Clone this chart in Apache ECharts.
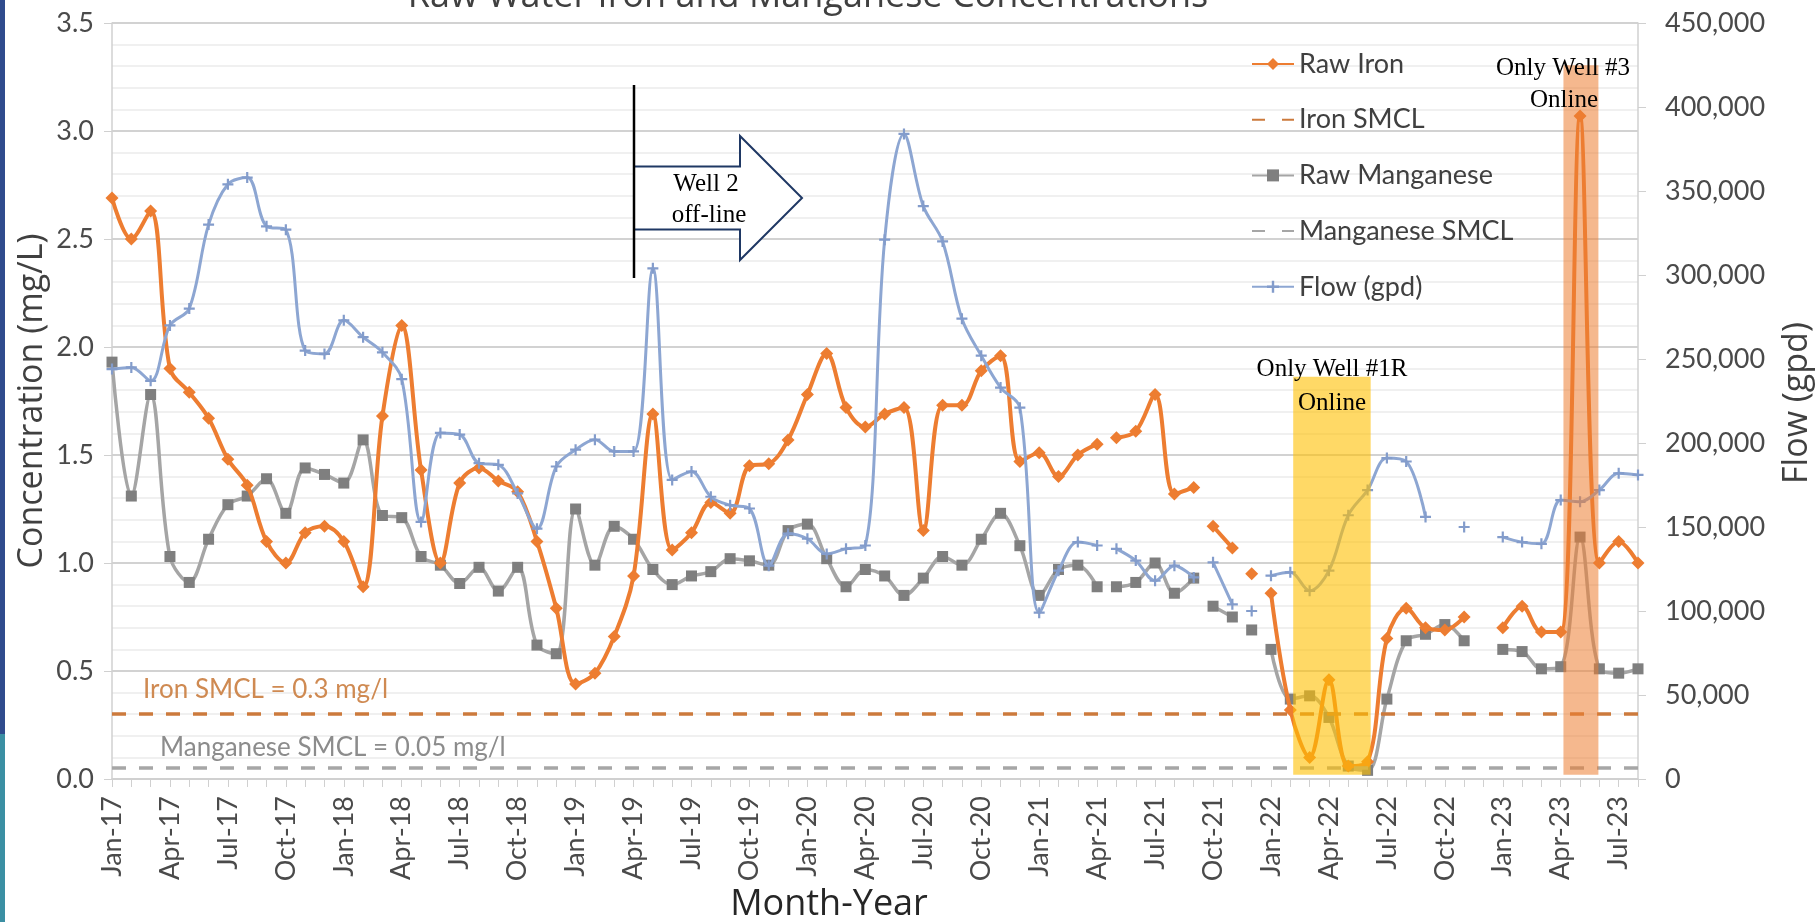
<!DOCTYPE html>
<html><head><meta charset="utf-8">
<script src="https://cdn.jsdelivr.net/npm/echarts@6/dist/echarts.min.js"></script>
<style>html,body{margin:0;padding:0;background:#fff;}#c{width:1817px;height:922px;}</style>
</head><body><div id="c"></div>
<script>
// ---------- DATA ----------
const months = [
 'Jan-17','Feb-17','Mar-17','Apr-17','May-17','Jun-17','Jul-17','Aug-17','Sep-17','Oct-17','Nov-17','Dec-17',
 'Jan-18','Feb-18','Mar-18','Apr-18','May-18','Jun-18','Jul-18','Aug-18','Sep-18','Oct-18','Nov-18','Dec-18',
 'Jan-19','Feb-19','Mar-19','Apr-19','May-19','Jun-19','Jul-19','Aug-19','Sep-19','Oct-19','Nov-19','Dec-19',
 'Jan-20','Feb-20','Mar-20','Apr-20','May-20','Jun-20','Jul-20','Aug-20','Sep-20','Oct-20','Nov-20','Dec-20',
 'Jan-21','Feb-21','Mar-21','Apr-21','May-21','Jun-21','Jul-21','Aug-21','Sep-21','Oct-21','Nov-21','Dec-21',
 'Jan-22','Feb-22','Mar-22','Apr-22','May-22','Jun-22','Jul-22','Aug-22','Sep-22','Oct-22','Nov-22','Dec-22',
 'Jan-23','Feb-23','Mar-23','Apr-23','May-23','Jun-23','Jul-23','Aug-23'
];
const rawIron = [
 2.69,2.50,2.63,1.90,1.79,1.67,1.48,1.36,1.10,1.00,1.14,1.17,
 1.10,0.89,1.68,2.10,1.43,1.00,1.37,1.44,1.38,1.33,1.10,0.79,
 0.44,0.49,0.66,0.94,1.69,1.06,1.14,1.28,1.23,1.45,1.46,1.57,
 1.78,1.97,1.72,1.63,1.69,1.72,1.15,1.73,1.73,1.89,1.96,1.47,
 1.51,1.40,1.50,1.55,1.58,1.61,1.78,1.32,1.35,1.17,1.07,0.95,
 0.86,0.32,0.10,0.46,0.06,0.08,0.65,0.79,0.70,0.69,0.75,null,
 0.70,0.80,0.68,0.68,3.07,1.00,1.10,1.00
];
const rawManganese = [
 1.93,1.31,1.78,1.03,0.91,1.11,1.27,1.31,1.39,1.23,1.44,1.41,
 1.37,1.57,1.22,1.21,1.03,0.99,0.905,0.98,0.87,0.98,0.62,0.58,
 1.25,0.99,1.17,1.11,0.97,0.90,0.94,0.96,1.02,1.01,0.99,1.15,
 1.18,1.02,0.89,0.97,0.94,0.85,0.93,1.03,0.99,1.11,1.23,1.08,
 0.85,0.97,0.99,0.89,0.89,0.91,1.00,0.86,0.93,0.80,0.75,0.69,
 0.60,0.37,0.385,0.285,0.06,0.04,0.37,0.64,0.67,0.715,0.64,null,
 0.60,0.59,0.51,0.52,1.12,0.51,0.49,0.51
];
const flowGpd = [
 244000,245000,237000,270000,280000,330000,354000,358000,329000,327000,255000,253000,
 273000,263000,254000,238000,153000,206000,205000,188000,187000,170000,149000,186000,
 196000,202000,195000,195000,304000,178000,183000,168000,163000,161000,127000,146000,
 143000,134000,137000,139000,321000,384000,341000,320000,274000,252000,233000,221000,
 99000,124000,141000,139000,137000,130000,118000,127000,120000,129000,104000,100000,
 121000,123000,112000,124000,157000,172000,191000,189000,156000,null,150000,null,
 144000,141000,140000,166000,165000,172000,182000,181000
];
const ironSMCL = 0.3;
const manganeseSMCL = 0.05;
// months after which the source line is broken (empty rows in the source sheet)
const lineBreaksAfter = [51,56,58,59];

// ---------- BUILD ----------
function toSeriesData(vals){
  const out = [];
  vals.forEach((v,i)=>{
    out.push([i, v==null ? '-' : v]);
    if (lineBreaksAfter.includes(i)) out.push([i+0.5,'-']);
  });
  return out;
}
const plusPath = 'path://M4,0H6V4H10V6H6V10H4V6H0V4H4Z';
const C_IRON='#ED7D31', C_MN_LINE='#A5A5A5', C_MN_MK='#7F7F7F', C_FLOW='#8DA6D2';
const C_IRON_SMCL='#CC7A3C', C_MN_SMCL='#A6A6A6';
const tickFont = {fontFamily:'Lato', fontSize:27, color:'#4a4a4a'};

const chart = echarts.init(document.getElementById('c'), null, {renderer:'canvas'});
chart.setOption({
  animation:false,
  backgroundColor:'#fff',
  grid:{left:112, right:179, top:23, bottom:143, containLabel:false},
  legend:{
    orient:'vertical', left:1251, top:49, padding:0, itemWidth:42, itemHeight:15, itemGap:25.7,
    textStyle:{fontFamily:'Lato', fontSize:27, color:'#404040', lineHeight:30},
    data:['Raw Iron','Iron SMCL','Raw Manganese','Manganese SMCL','Flow (gpd)']
  },
  xAxis:{
    type:'value', min:0, max:months.length-1, interval:3,
    axisLine:{show:true, lineStyle:{color:'#d0d0d0', width:1.5}},
    axisTick:{show:true, length:8, lineStyle:{color:'#d0d0d0'}},
    minorTick:{show:true, splitNumber:3, length:8, lineStyle:{color:'#d0d0d0'}},
    splitLine:{show:false},
    axisLabel:Object.assign({rotate:90, margin:17, showMaxLabel:false,
      formatter:(v)=> (v%3===0 && months[v]) ? months[v] : ''}, tickFont)
  },
  yAxis:[
    {type:'value', min:0, max:3.5, interval:0.5,
     axisLine:{show:true, lineStyle:{color:'#d0d0d0', width:1.5}},
     axisTick:{show:true, length:8, lineStyle:{color:'#d0d0d0'}},
     splitLine:{show:true, lineStyle:{color:'#d2d2d2', width:2}},
     minorTick:{show:false, splitNumber:5},
     minorSplitLine:{show:true, lineStyle:{color:'#ececec', width:1.5}},
     axisLabel:Object.assign({margin:18, formatter:(v)=>v.toFixed(1)}, tickFont)
    },
    {type:'value', min:0, max:450000, interval:50000, position:'right',
     axisLine:{show:true, lineStyle:{color:'#d0d0d0', width:1.5}},
     axisTick:{show:true, length:8, lineStyle:{color:'#d0d0d0'}},
     splitLine:{show:false},
     axisLabel:Object.assign({margin:27, formatter:(v)=>v.toLocaleString('en-US')}, tickFont)
    }
  ],
  series:[
    {name:'Raw Iron', type:'line', data:toSeriesData(rawIron), smooth:0.35,
     symbol:'diamond', symbolSize:13, showSymbol:true,
     lineStyle:{color:C_IRON, width:4}, itemStyle:{color:C_IRON}, z:3},
    {name:'Iron SMCL', type:'line', data:[], symbol:'none',
     lineStyle:{color:C_IRON_SMCL, width:3.5, type:[13,17]}, itemStyle:{color:'rgba(0,0,0,0)'},
     markLine:{silent:true, symbol:['none','none'], label:{show:false},
       lineStyle:{color:C_IRON_SMCL, width:3.5, type:[14,13]}, data:[{yAxis:ironSMCL}]}},
    {name:'Raw Manganese', type:'line', data:toSeriesData(rawManganese), smooth:0.35,
     symbol:'rect', symbolSize:11, showSymbol:true,
     lineStyle:{color:C_MN_LINE, width:3.5}, itemStyle:{color:C_MN_MK}, z:2},
    {name:'Manganese SMCL', type:'line', data:[], symbol:'none',
     lineStyle:{color:C_MN_SMCL, width:3.5, type:[13,17]}, itemStyle:{color:'rgba(0,0,0,0)'},
     markLine:{silent:true, symbol:['none','none'], label:{show:false},
       lineStyle:{color:C_MN_SMCL, width:3.5, type:[14,13]}, data:[{yAxis:manganeseSMCL}]}},
    {name:'Flow (gpd)', type:'line', yAxisIndex:1, data:toSeriesData(flowGpd), smooth:0.35,
     symbol:plusPath, symbolSize:11, showSymbol:true,
     lineStyle:{color:C_FLOW, width:3}, itemStyle:{color:'#839CCB'}, z:4}
  ]
});

// ---------- ANNOTATIONS ----------
const toPx = (x,y)=>chart.convertToPixel({xAxisIndex:0, yAxisIndex:0},[x,y]);
function box(x1,x2,y1,y2,fill){
  const a = toPx(x1,y2), b = toPx(x2,y1);
  return {type:'rect', z:100, shape:{x:a[0], y:a[1], width:b[0]-a[0], height:b[1]-a[1]}, style:{fill}};
}
function txt(t,x,y,font,fill,align,rot){
  return {type:'text', z:110, x, y, rotation:rot||0,
    style:{text:t, font, fill, textAlign:align||'center', textVerticalAlign:'middle', verticalAlign:'middle'}};
}
const serif = '25px "Liberation Serif"';
chart.setOption({graphic:[
  {type:'rect', z:120, shape:{x:0,y:0,width:5,height:734}, style:{fill:'#2F4B8D'}},
  {type:'rect', z:120, shape:{x:0,y:734,width:5,height:188}, style:{fill:'#3B8FA3'}},
  txt('Raw Water Iron and Manganese Concentrations', 808, -3.5, '36px "Open Sans"', '#404040'),
  txt('Concentration (mg/L)', 32, 401, '34px "Open Sans"', '#404040', 'center', Math.PI/2),
  txt('Flow (gpd)', 1797, 403, '34px "Open Sans"', '#404040', 'center', Math.PI/2),
  txt('Month-Year', 829, 905, '36px "Open Sans"', '#262626'),
  txt('Iron SMCL = 0.3 mg/l', 143, 690, '26px Lato', '#CF8A52', 'left'),
  txt('Manganese SMCL = 0.05 mg/l', 160, 748, '26px Lato', '#8C8C8C', 'left'),
  box(61.15, 65.16, 0.02, 1.862, 'rgba(255,192,0,0.6)'),
  box(75.14, 76.95, 0.02, 3.304, 'rgba(237,125,49,0.55)'),
  txt('Only Well #1R', 1332, 369, serif, '#000'),
  txt('Online', 1332, 403, serif, '#000'),
  txt('Only Well #3', 1563, 68, serif, '#000'),
  txt('Online', 1564, 100, serif, '#000'),
  {type:'line', z:110, shape:{x1:634,y1:85,x2:634,y2:278}, style:{stroke:'#000', lineWidth:2.5}},
  {type:'polygon', z:105, shape:{points:[[634,166.5],[740,166.5],[740,136],[802,198],[740,260],[740,229.5],[634,229.5]]},
   style:{fill:'#fff', stroke:'#1F3864', lineWidth:2}},
  txt('Well 2', 706, 184, serif, '#000'),
  txt('off-line', 709, 215, serif, '#000')
]});
</script></body></html>
